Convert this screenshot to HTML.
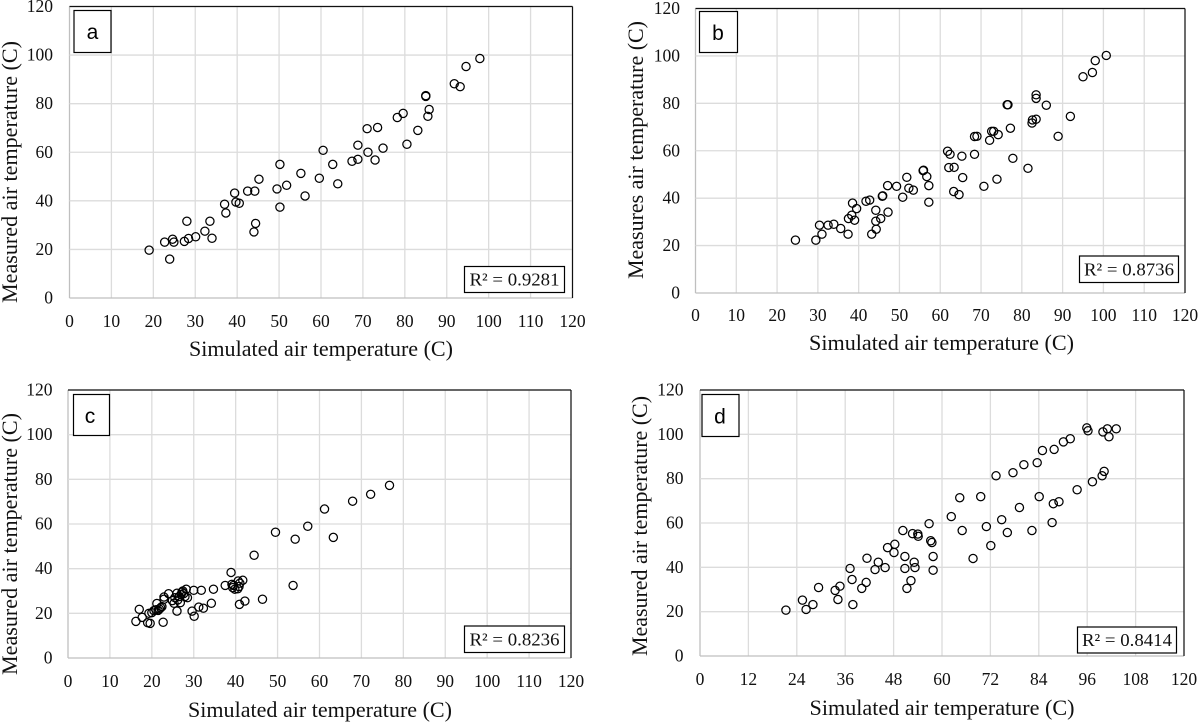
<!DOCTYPE html>
<html lang="en">
<head>
<meta charset="utf-8">
<title>Simulated versus measured air temperature</title>
<style>
html,body{margin:0;padding:0;background:#fff;width:1198px;height:722px;overflow:hidden}
svg{display:block}
text{font-family:"Liberation Serif",serif;fill:#111}
.tick{font-size:17.5px}
.title{font-size:22px}
.r2{font-size:18px}
.letter{font-family:"Liberation Sans",sans-serif;font-size:21px;fill:#000}
.box{fill:#fff;stroke:#000;stroke-width:1.2}
</style>
</head>
<body>
<svg id="figure" xmlns="http://www.w3.org/2000/svg" width="1198" height="722" viewBox="0 0 1198 722">
  <g id="panel-a"></g>
  <g id="panel-b"></g>
  <g id="panel-c"></g>
  <g id="panel-d"></g>

  <g>
    <text class="title" x="321" y="356" text-anchor="middle" textLength="264" lengthAdjust="spacingAndGlyphs">Simulated air temperature (C)</text>
    <text class="title" transform="translate(17,172) rotate(-90)" text-anchor="middle" textLength="262" lengthAdjust="spacingAndGlyphs">Measured air temperature (C)</text>
    <rect class="box" x="74" y="10.5" width="37" height="42"/>
    <text class="letter" x="92.5" y="39" text-anchor="middle">a</text>
    <rect class="box" x="464.5" y="266.5" width="100" height="26"/>
    <text class="r2" x="514.5" y="285.5" text-anchor="middle" textLength="90" lengthAdjust="spacingAndGlyphs">R² = 0.9281</text>
  </g>

  <g>
    <text class="title" x="941.5" y="350" text-anchor="middle" textLength="265" lengthAdjust="spacingAndGlyphs">Simulated air temperature (C)</text>
    <text class="title" transform="translate(643,150) rotate(-90)" text-anchor="middle" textLength="258" lengthAdjust="spacingAndGlyphs">Measures air temperature (C)</text>
    <rect class="box" x="699.5" y="11.5" width="38" height="41"/>
    <text class="letter" x="718" y="40" text-anchor="middle">b</text>
    <rect class="box" x="1079.5" y="256" width="99" height="26.5"/>
    <text class="r2" x="1129" y="275.5" text-anchor="middle" textLength="90" lengthAdjust="spacingAndGlyphs">R² = 0.8736</text>
  </g>

  <g>
    <text class="title" x="320" y="717" text-anchor="middle" textLength="264" lengthAdjust="spacingAndGlyphs">Simulated air temperature (C)</text>
    <text class="title" transform="translate(17,544) rotate(-90)" text-anchor="middle" textLength="262" lengthAdjust="spacingAndGlyphs">Measured air temperature (C)</text>
    <rect class="box" x="73.5" y="394.5" width="36" height="41"/>
    <text class="letter" x="90" y="423" text-anchor="middle">c</text>
    <rect class="box" x="464.5" y="626" width="100" height="26.5"/>
    <text class="r2" x="514.5" y="645.5" text-anchor="middle" textLength="90" lengthAdjust="spacingAndGlyphs">R² = 0.8236</text>
  </g>

  <g>
    <text class="title" x="942" y="715" text-anchor="middle" textLength="265" lengthAdjust="spacingAndGlyphs">Simulated air temperature (C)</text>
    <text class="title" transform="translate(647,526) rotate(-90)" text-anchor="middle" textLength="260" lengthAdjust="spacingAndGlyphs">Measured air temperature (C)</text>
    <rect class="box" x="702" y="394.5" width="37" height="42"/>
    <text class="letter" x="720" y="423.5" text-anchor="middle">d</text>
    <rect class="box" x="1077.5" y="627" width="99" height="26"/>
    <text class="r2" x="1127" y="646" text-anchor="middle" textLength="90" lengthAdjust="spacingAndGlyphs">R² = 0.8414</text>
  </g>
</svg>

<script>
const xTicksTens = [0,10,20,30,40,50,60,70,80,90,100,110,120];
const xTicksTwelves = [0,12,24,36,48,60,72,84,96,108,120];
const yTicks = [0,20,40,60,80,100,120];

const simulatedA = [19,22.7,24.6,24.9,23.9,27.4,28.4,28,30.1,32.3,33.5,34,37,37.3,39.4,39.7,40.5,42.5,44.2,44,44.4,45.2,49.5,50.2,50.2,51.8,55.2,56.2,59.6,60.5,62.8,64,67.4,68.8,68.8,71,71.2,72.9,73.5,74.8,78.2,79.6,80.5,83.1,85,85,85.5,85.8,91.8,93.2,94.6,97.9];
const measuredA = [19.7,23,24.2,23,16,23.3,24.5,31.6,25.2,27.5,31.6,24.6,38.6,35,43.2,39.5,39,44,44,27.2,30.7,48.9,44.9,55,37.4,46.4,51.3,42,49.3,60.8,55,47,56.3,57.1,62.9,69.7,60,56.8,70.2,61.7,74.3,76,63.3,69,83,83.3,74.8,77.6,88.2,87,95.3,98.6];

const simulatedB = [24.5,29.5,30.4,31,32.5,33.9,35.6,37.4,37.5,38.3,38.5,39,39.5,41.8,42.7,43.2,44.2,44.2,44.3,45.4,45.8,45.9,47.2,47.1,49.3,50.8,51.8,52.3,53.4,55.8,55.9,56.7,57.2,57.2,61.8,62.4,62.1,63.4,63.3,64.6,65.3,65.5,68.4,68.4,69,70.7,72.1,72.6,73.1,74.2,73.9,76.4,76.6,77.2,77.8,81.5,82.5,82.6,83.5,83.5,83.5,86,88.9,91.9,95,97.3,98,100.7];
const measuredB = [22.3,22.3,28.6,24.8,28.6,29,27.2,24.8,31.4,32.8,37.9,30.7,35.6,38.7,39.2,24.8,34.9,30.3,26.9,31.4,40.8,41,34.1,45.3,45,40.4,48.8,44.2,43.4,51.6,51.8,49.1,45.3,38.3,59.8,58.5,52.9,53,42.8,41.5,57.7,48.7,58.5,66,66.1,45,64.4,68.2,68.2,66.8,48,79.4,79.4,69.5,56.8,52.6,71.7,73,73.3,83.6,82.1,79.2,66.1,74.5,91.2,93,98,100.2];

const simulatedC = [16.2,17,17.7,19,19.6,19.3,20,20.5,21,21.2,21.5,21.8,22.1,22.4,22.7,22.9,22.9,24,24.9,25.3,25.5,26,26,26.2,26.5,26.8,27,27.2,27.4,27.6,27.9,28.2,28.5,30,29.6,30.1,31.2,31.8,32.3,34.2,34.7,37.5,38.9,39.1,39.3,39.5,39.8,40.5,40.6,40.8,40.9,41,41.7,42.2,44.4,46.4,49.5,53.7,54.2,57.2,61.2,63.3,67.9,72.2,76.7];
const measuredC = [16.4,21.8,18.2,15.8,15.5,20,20.3,21.2,21.6,24.4,21.3,21.9,22.5,23,16,27.3,26.3,28.8,25.7,24.5,27,29,21,26,27.5,24.8,28.5,29.5,30,28.8,27.5,30.8,27,30.3,21,18.7,22.8,30.3,22.3,24.5,30.8,32.5,38.3,33,31.5,32.5,30.8,31,34.5,32,24,33.5,34.8,25.5,46,26.3,56.3,32.5,53.2,59,66.7,54,70.2,73.3,77.3];

const simulatedD = [21.3,25.4,26.3,28,29.4,33.5,34.7,34.2,37.2,37.7,37.9,40.1,41.2,41.4,44.2,43.4,45.9,46.5,48.1,48.3,50.3,50.8,50.8,51.3,52.3,52.7,54,54.1,53.1,53.3,56.8,57.2,57.5,57.8,57.8,62.3,64.4,65,67.7,69.6,71,72.1,73.4,74.8,76.2,77.6,79.2,80.3,82.3,83.6,84.1,84.9,87.3,87.6,87.8,89,90.1,91.8,93.5,95.9,96.2,97.3,99.7,99.9,100.2,101,101.4,103.2];
const measuredD = [20.7,25.2,21,23.2,30.9,29.6,31.5,25.5,39.5,34.5,23.2,30.5,33.2,44.1,42.3,39,39.9,48.9,46.7,50.4,56.6,44.9,39.5,30.5,34,55.2,55,54,42.3,39.9,59.7,52,51.2,44.9,38.7,62.9,71.4,56.6,44,71.9,58.4,49.8,81.3,61.5,55.7,82.7,67,86.3,56.6,87.2,71.9,92.7,60.2,68.7,93.2,69.6,96.6,98,75,102.9,101.6,78.6,81.3,101.1,83.3,102.5,98.9,102.5];

const axisMax = 120;
const SVG_NS = 'http://www.w3.org/2000/svg';

function drawPanel(id, frame, xTicks, xValues, yValues) {
  const root = document.getElementById(id);
  const sx = v => frame.left + (v / axisMax) * (frame.right - frame.left);
  const sy = v => frame.bottom - (v / axisMax) * (frame.bottom - frame.top);

  xTicks.forEach(t => {
    const grid = document.createElementNS(SVG_NS, 'line');
    
    
    grid.setAttribute('x1', sx(t));
    grid.setAttribute('x2', sx(t));
    grid.setAttribute('y1', frame.top);
    grid.setAttribute('y2', frame.bottom);
    grid.setAttribute('stroke', t === 0 ? '#bfbfbf' : '#dcdcdc');
    grid.setAttribute('stroke-width', '1.3');
    root.appendChild(grid);

    const label = document.createElementNS(SVG_NS, 'text');
    
    
    label.setAttribute('class', 'tick');
    label.setAttribute('x', sx(t));
    label.setAttribute('y', frame.xLabelY);
    label.setAttribute('text-anchor', 'middle');
    label.textContent = t;
    root.appendChild(label);
  });

  yTicks.forEach(t => {
    const grid = document.createElementNS(SVG_NS, 'line');
    
    
    grid.setAttribute('x1', frame.left);
    grid.setAttribute('x2', frame.right);
    grid.setAttribute('y1', sy(t));
    grid.setAttribute('y2', sy(t));
    grid.setAttribute('stroke', t === 0 ? '#bfbfbf' : '#dcdcdc');
    grid.setAttribute('stroke-width', '1.3');
    root.appendChild(grid);

    const label = document.createElementNS(SVG_NS, 'text');
    
    
    label.setAttribute('class', 'tick');
    label.setAttribute('x', frame.yLabelX);
    label.setAttribute('y', sy(t) + 5.5);
    label.setAttribute('text-anchor', 'end');
    label.textContent = t;
    root.appendChild(label);
  });

  const topEdge = document.createElementNS(SVG_NS, 'line');
  
  
  topEdge.setAttribute('x1', frame.left);
  topEdge.setAttribute('x2', frame.right);
  topEdge.setAttribute('y1', frame.top);
  topEdge.setAttribute('y2', frame.top);
  topEdge.setAttribute('stroke', '#111');
  topEdge.setAttribute('stroke-width', '1.2');
  root.appendChild(topEdge);

  const rightEdge = document.createElementNS(SVG_NS, 'line');
  
  
  rightEdge.setAttribute('x1', frame.right);
  rightEdge.setAttribute('x2', frame.right);
  rightEdge.setAttribute('y1', frame.top);
  rightEdge.setAttribute('y2', frame.bottom);
  rightEdge.setAttribute('stroke', '#111');
  rightEdge.setAttribute('stroke-width', '1.2');
  root.appendChild(rightEdge);

  xValues.forEach((x, i) => {
    const point = document.createElementNS(SVG_NS, 'circle');
    
    
    point.setAttribute('cx', sx(x));
    point.setAttribute('cy', sy(yValues[i]));
    point.setAttribute('r', '4.1');
    point.setAttribute('fill', 'none');
    point.setAttribute('stroke', '#000');
    point.setAttribute('stroke-width', '1.25');
    root.appendChild(point);
  });
}

drawPanel('panel-a', {left:69.5, right:572.5, top:6.5, bottom:298, xLabelY:327, yLabelX:53}, xTicksTens, simulatedA, measuredA);
drawPanel('panel-b', {left:695.5, right:1185, top:8.5, bottom:293, xLabelY:321, yLabelX:680}, xTicksTens, simulatedB, measuredB);
drawPanel('panel-c', {left:68, right:571, top:390, bottom:658, xLabelY:687, yLabelX:52.5}, xTicksTens, simulatedC, measuredC);
drawPanel('panel-d', {left:700, right:1184, top:390, bottom:656, xLabelY:685, yLabelX:683.5}, xTicksTwelves, simulatedD, measuredD);
</script>
</body>
</html>
